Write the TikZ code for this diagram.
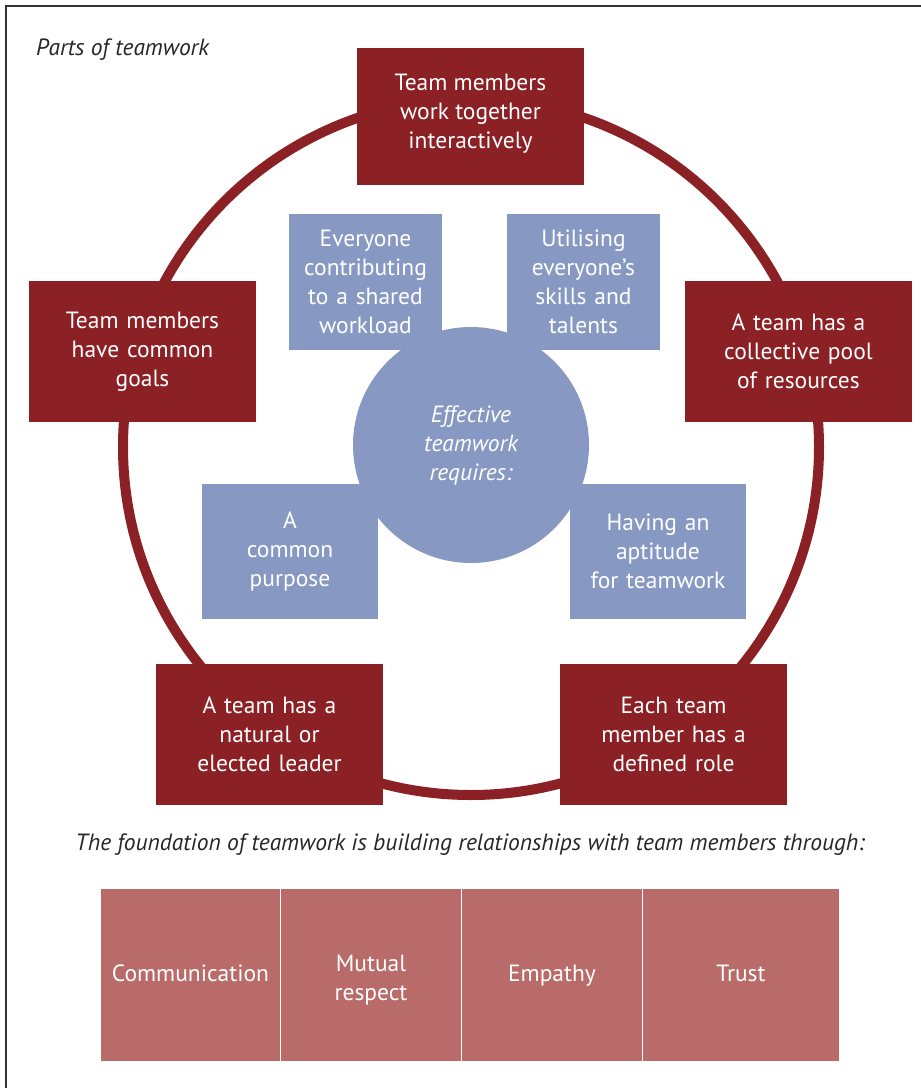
\documentclass[tikz,border=0pt]{standalone}
\usepackage{fontspec}
\setmainfont{PT Sans}
\definecolor{darkred}{HTML}{8B2025}
\definecolor{softblue}{HTML}{8799C3}
\definecolor{rose}{HTML}{B86B69}
\definecolor{framegray}{HTML}{333333}
\tikzset{
  txt/.style={font=\fontsize{23.5}{29}\selectfont},
  redbox/.style={txt, fill=darkred, text=white, minimum width=227pt, minimum height=141pt, text width=220pt, align=center, inner sep=0pt},
  bluebox/.style={txt, fill=softblue, text=white, inner sep=0pt, align=center},
  rosebox/.style={fill=rose, minimum height=172pt, inner sep=0pt},
  rosetext/.style={txt, text=white, inner sep=0pt, align=center},
  caption/.style={text=black!85, font=\fontsize{23.5}{29}\selectfont\itshape, inner sep=0pt}
}
\begin{document}
\begin{tikzpicture}[x=1pt,y=-1pt]
\useasboundingbox (0,0) rectangle (921,1088);
\draw[framegray, line width=2pt] (6,1088) -- (6,6) -- (921,6);
\node[caption, anchor=west] (title) at (36,50) {Parts of teamwork};
% ring
\draw[darkred, line width=10pt] (471,447) circle (348);
% blue boxes
\node[bluebox, minimum width=153pt, minimum height=136pt, text width=150pt] (b1) at (365.5,282) {Everyone\\contributing\\to a shared\\workload};
\node[bluebox, minimum width=153pt, minimum height=136pt, text width=150pt] (b2) at (583.5,282) {Utilising\\everyone's\\skills and\\talents};
\node[bluebox, minimum width=176pt, minimum height=135pt, text width=172pt] (b3) at (290,551.5) {A\\common\\purpose};
\node[bluebox, minimum width=176pt, minimum height=135pt, text width=172pt] (b4) at (658,551.5) {Having an\\aptitude\\for teamwork};
\node[circle, fill=softblue, minimum size=236pt, inner sep=0pt, text=white, align=center, font=\fontsize{23.5}{29}\selectfont\itshape] (center) at (471,445) {Effective\\teamwork\\requires:};
% red boxes
\node[redbox, minimum height=137pt] (top) at (470.5,116.5) {};
\node[txt, text=white, align=center, inner sep=0pt] (toptext) at (470.5,113.5) {Team members\\work together\\interactively};
\node[redbox] (left) at (142.5,351.5) {Team members\\have common\\goals};
\node[redbox] (right) at (798.5,351.5) {A team has a\\collective pool\\of resources};
\node[redbox] (bl) at (269.5,734.5) {A team has a\\natural or\\elected leader};
\node[redbox] (br) at (673.5,734.5) {Each team\\member has a\\defined role};
% foundation
\node[caption] (found) at (470,845) {The foundation of teamwork is building relationships with team members through:};
\node[rosebox, minimum width=179pt] (r1) at (190.5,975) {};
\node[rosebox, minimum width=180pt] (r2) at (371,975) {};
\node[rosebox, minimum width=180pt] (r3) at (552,975) {};
\node[rosebox, minimum width=196pt] (r4) at (741,975) {};
\node[rosetext] (t1) at (190.5,973) {Communication};
\node[rosetext] (t2) at (371,980) {Mutual\\respect};
\node[rosetext] (t3) at (552,976) {Empathy};
\node[rosetext] (t4) at (741,973) {Trust};
\end{tikzpicture}
\end{document}
